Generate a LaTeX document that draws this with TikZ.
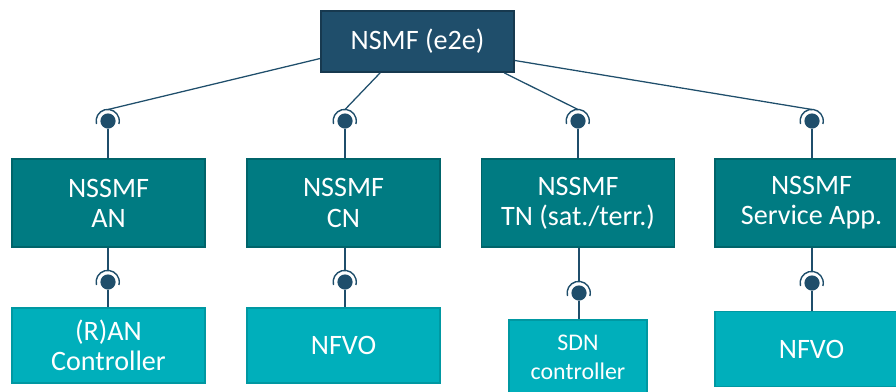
\documentclass[tikz,border=0pt]{standalone}
\usepackage{fontspec}
\setmainfont{Carlito}
\usepackage{tikz}
\usetikzlibrary{positioning,calc}
\definecolor{nsmfblue}{HTML}{1F4E6B}
\definecolor{nsmfedge}{HTML}{17394F}
\definecolor{nssmfteal}{HTML}{007B82}
\definecolor{nssmfedge}{HTML}{00646A}
\definecolor{ctrlcyan}{HTML}{00AFBB}
\definecolor{ctrledge}{HTML}{0098A2}
\definecolor{linkblue}{HTML}{1F4E6B}

\tikzset{
  box/.style={draw, line width=1.2pt, text=white, align=center, inner sep=0pt,
    font=\fontsize{20}{21.5}\selectfont},
  nsmf/.style={box, fill=nsmfblue, draw=nsmfedge},
  nssmf/.style={box, fill=nssmfteal, draw=nssmfedge, minimum width=4.825cm, minimum height=2.2cm},
  ctrl/.style={box, fill=ctrlcyan, draw=ctrledge, minimum width=4.825cm, minimum height=1.875cm},
  link/.style={draw=linkblue, line width=0.9pt},
  plug/.style={circle, fill=linkblue, inner sep=0pt, minimum size=0.38cm},
  cup/.style={draw=linkblue, line width=1pt}
}

\begin{document}
\begin{tikzpicture}[x=0.025cm, y=-0.025cm]
\useasboundingbox (0,0) rectangle (896,391);

%boxes
\node[nsmf, minimum width=4.825cm, minimum height=1.525cm] (nsmf) at (417.5,41.5) {NSMF (e2e)};

\node[nssmf] (an) at (108.5,203) {NSSMF\\AN};
\node[nssmf] (cn) at (343.5,203) {NSSMF\\CN};
\node[nssmf] (tn) at (578,203) {NSSMF\\TN (sat./terr.)};
\node[nssmf] (sa) at (811.5,203) {NSSMF\\Service App.};

\node[ctrl] (anc) at (108.5,345.5) {(R)AN\\Controller};
\node[ctrl] (cnc) at (343.5,345.5) {NFVO};
\node[ctrl, minimum width=3.45cm, font=\fontsize{17}{20.5}\selectfont] (tnc) at (578,357.5) {SDN\\controller};
\node[ctrl] (sac) at (811.5,349) {NFVO};

%sockets
\foreach \n/\x/\y in {pan/108/121, pcn/345/121, ptn/578/121, psa/812/121,
                     qan/108/282, qcn/345/282, qtn/579/293, qsa/812/283}{
  \node[plug] (\n) at (\x,\y) {};
  \draw[cup] ($(\n)+(-11.5,3)$) arc[start angle=195, end angle=-15, radius=0.29cm];
  \coordinate (\n t) at ($(\n)+(0,-11.5)$);
}

%links from the top
\draw[link] ($(nsmf.west)+(0,17)$) -- (pant);
\draw[link] ($(nsmf.south west)+(60,0)$) -- (pcnt);
\draw[link] ($(nsmf.south west)+(184,0)$) -- (ptnt);
\draw[link] ($(nsmf.east)+(0,19)$) -- (psat);

%links between rows
\foreach \p/\q/\a/\b in {pan/qan/an/anc, pcn/qcn/cn/cnc, ptn/qtn/tn/tnc, psa/qsa/sa/sac}{
  \draw[link] (\p) -- (\a.north-|\p);
  \draw[link] (\q t) -- (\a.south-|\q);
  \draw[link] (\q) -- (\b.north-|\q);
}
\end{tikzpicture}
\end{document}
